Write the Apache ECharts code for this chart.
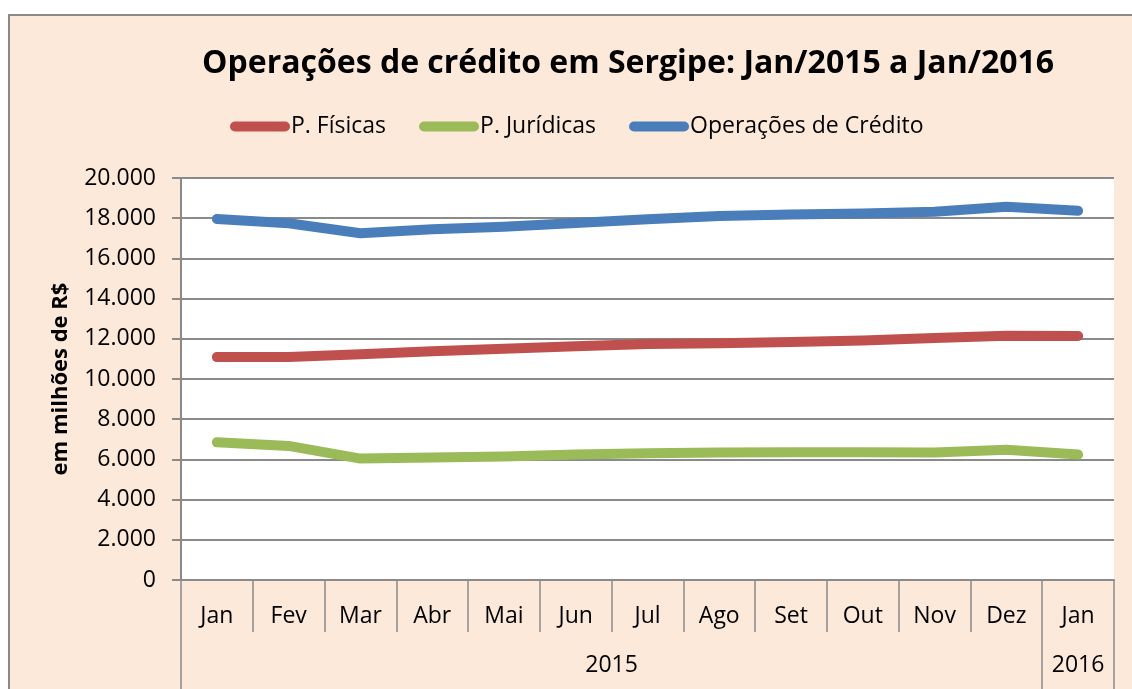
<!DOCTYPE html>
<html>
<head>
<meta charset="utf-8">
<script src="https://cdn.jsdelivr.net/npm/echarts@6/dist/echarts.min.js"></script>
<style>
  html, body { margin: 0; padding: 0; background: #fff; overflow: hidden; width: 1132px; height: 689px; }
  #frame {
    position: absolute; left: 8px; top: 14px;
    width: 1140px; height: 690px;
    background: #FDE9D9; border: 2px solid #8a8a8a;
  }
  #chart { width: 1140px; height: 690px; }
</style>
</head>
<body>
<div id="frame"><div id="chart"></div></div>
<script>
  'use strict'

  // categorias (meses) e anos
  var months = ['Jan', 'Fev', 'Mar', 'Abr', 'Mai', 'Jun', 'Jul', 'Ago', 'Set', 'Out', 'Nov', 'Dez', 'Jan']
  var years = [
    { label: '2015', from: 0, to: 12 },
    { label: '2016', from: 12, to: 13 }
  ]

  // valores em milhões de R$
  var pFisicas = [11090, 11090, 11230, 11380, 11510, 11630, 11740, 11780, 11840, 11920, 12040, 12150, 12140]
  var pJuridicas = [6850, 6670, 6040, 6100, 6140, 6240, 6300, 6340, 6350, 6350, 6340, 6480, 6240]
  var operacoes = [17960, 17750, 17250, 17450, 17580, 17760, 17950, 18110, 18190, 18240, 18320, 18570, 18370]

  var yTicks = { min: 0, max: 20000, interval: 2000 }

  var font = '"Open Sans", "Liberation Sans", sans-serif'
  var gray = '#8a8a8a'
  var pill = 'path://M5,0H55A5,5,0,0,1,55,10H5A5,5,0,0,1,5,0Z'

  function fmt(v) {
    return String(v).replace(/\B(?=(\d{3})+(?!\d))/g, '.')
  }

  var yearTicks = [years[0].from]
  var yearMids = []
  years.forEach(function (y) {
    yearTicks.push(y.to)
    yearMids.push((y.from + y.to) / 2)
  })

  function lineSeries(name, data, color) {
    return {
      name: name,
      type: 'line',
      data: data,
      symbol: 'none',
      xAxisIndex: 0,
      itemStyle: { color: color },
      lineStyle: { color: color, width: 10, cap: 'round', join: 'round' },
      z: 3
    }
  }

  var myChart = echarts.init(document.getElementById('chart'))

  myChart.setOption({
    animation: false,
    title: {
      text: 'Operações de crédito em Sergipe: Jan/2015 a Jan/2016',
      left: 187,
      top: 27,
      textStyle: { fontFamily: font, fontWeight: 'bold', fontSize: 32, color: '#000' }
    },
    legend: {
      left: 215,
      top: 94,
      itemWidth: 60,
      itemHeight: 10,
      itemGap: 33,
      icon: pill,
      textStyle: { fontFamily: font, fontSize: 23, color: '#000', padding: [0, 0, 0, -4] },
      data: ['P. Físicas', 'P. Jurídicas', 'Operações de Crédito']
    },
    grid: {
      left: 171, top: 162, width: 933, height: 402,
      show: true, backgroundColor: '#fff', borderWidth: 0
    },
    xAxis: [
      {
        type: 'category',
        data: months,
        boundaryGap: true,
        position: 'bottom',
        axisLine: { lineStyle: { color: gray, width: 2 } },
        axisTick: { show: true, interval: 0, length: 52, lineStyle: { color: gray, width: 1.5 } },
        axisLabel: { interval: 0, margin: 25, fontFamily: font, fontSize: 23, color: '#000' },
        splitLine: { show: false }
      },
      {
        type: 'value',
        min: 0,
        max: months.length,
        position: 'bottom',
        axisLine: { show: false },
        axisTick: { show: true, customValues: yearTicks, length: 109, lineStyle: { color: gray, width: 1.5 } },
        axisLabel: {
          customValues: yearMids,
          margin: 74,
          fontFamily: font, fontSize: 23, color: '#000',
          formatter: function (v) {
            for (var i = 0; i < years.length; i++) {
              if (v === yearMids[i]) return years[i].label
            }
            return ''
          }
        },
        splitLine: { show: false }
      }
    ],
    yAxis: {
      type: 'value',
      min: yTicks.min,
      max: yTicks.max,
      interval: yTicks.interval,
      name: 'em milhões de R$',
      nameLocation: 'middle',
      nameRotate: 90,
      nameGap: 109,
      nameTextStyle: { fontFamily: font, fontWeight: 'bold', fontSize: 22, color: '#000' },
      axisLine: { show: true, lineStyle: { color: gray, width: 2 } },
      axisTick: { show: true, length: 9, lineStyle: { color: gray, width: 2 } },
      axisLabel: { margin: 25, fontFamily: font, fontSize: 23, color: '#000', formatter: fmt },
      splitLine: { lineStyle: { color: gray, width: 2 } }
    },
    series: [
      lineSeries('P. Físicas', pFisicas, '#C0504D'),
      lineSeries('P. Jurídicas', pJuridicas, '#9BBB59'),
      lineSeries('Operações de Crédito', operacoes, '#4A7EBB')
    ]
  })
</script>
</body>
</html>
